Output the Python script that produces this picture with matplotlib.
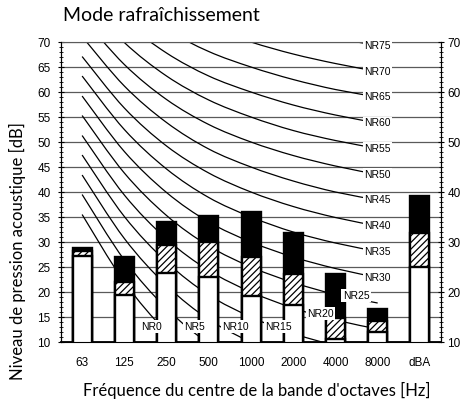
import numpy as np
import matplotlib.pyplot as plt
from matplotlib.ticker import MultipleLocator
from matplotlib.path import Path
from matplotlib.patches import PathPatch

plt.rcParams['hatch.linewidth'] = 0.9

bands = ['63', '125', '250', '500', '1000', '2000', '4000', '8000', 'dBA']

# bar levels in dB: top of the white part, top of the hatched part, top of the black part
level_low = [27.2, 19.4, 23.8, 23.1, 19.3, 17.5, 10.7, 12.1, 25.0]
level_mid = [28.3, 22.1, 29.5, 30.1, 27.1, 23.7, 14.8, 14.2, 31.9]
level_high = [28.9, 27.1, 34.1, 35.3, 36.1, 31.9, 23.6, 16.6, 39.2]

# NR curves, 63 Hz .. 8000 Hz
nr_names = ['NR0', 'NR5', 'NR10', 'NR15', 'NR20', 'NR25', 'NR30', 'NR35',
            'NR40', 'NR45', 'NR50', 'NR55', 'NR60', 'NR65', 'NR70', 'NR75']
nr_values = [
    [35.5, 22.0, 12.0, 4.8, 0.0, -3.5, -6.1, -8.0],
    [39.5, 26.4, 16.7, 9.7, 5.0, 1.6, -1.0, -2.9],
    [43.4, 30.7, 21.3, 14.5, 10.0, 6.7, 4.2, 2.3],
    [47.4, 35.1, 26.0, 19.4, 15.0, 11.7, 9.3, 7.5],
    [51.3, 39.4, 30.6, 24.3, 20.0, 16.8, 14.4, 12.6],
    [55.3, 43.8, 35.3, 29.2, 25.0, 21.9, 19.5, 17.8],
    [59.2, 48.1, 39.9, 34.0, 30.0, 27.0, 24.7, 22.9],
    [63.2, 52.5, 44.6, 38.9, 35.0, 32.0, 29.8, 28.1],
    [67.1, 56.8, 49.2, 43.8, 40.0, 37.1, 34.9, 33.2],
    [71.1, 61.2, 53.9, 48.6, 45.0, 42.2, 40.0, 38.4],
    [75.0, 65.5, 58.5, 53.5, 50.0, 47.3, 45.2, 43.5],
    [79.0, 69.9, 63.2, 58.4, 55.0, 52.3, 50.3, 48.7],
    [82.9, 74.2, 67.8, 63.2, 60.0, 57.4, 55.4, 53.8],
    [86.9, 78.6, 72.5, 68.1, 65.0, 62.5, 60.5, 59.0],
    [90.8, 82.9, 77.1, 73.0, 70.0, 67.6, 65.7, 64.1],
    [94.8, 87.3, 81.8, 77.9, 75.0, 72.6, 70.8, 69.3],
]

# where the low NR labels sit (others sit on the curve end)
label_x = [1.65, 2.66, 3.64, 4.65, 5.65, 6.49]
label_y = [13.1, 13.1, 13.1, 13.1, 15.7, 19.3]


def smooth_path(xs, ys):
    # smoothed line through the points (bezier segments, like a spreadsheet "smooth line")
    pts = np.column_stack([xs, ys]).astype(float)
    n = len(pts)
    verts = [pts[0]]
    codes = [Path.MOVETO]
    for i in range(n - 1):
        p0 = pts[max(i - 1, 0)]
        p1 = pts[i]
        p2 = pts[i + 1]
        p3 = pts[min(i + 2, n - 1)]
        verts += [p1 + (p2 - p0) / 6, p2 - (p3 - p1) / 6, p2]
        codes += [Path.CURVE4] * 3
    return Path(verts, codes)


fig = plt.figure(figsize=(4.65, 4.01), dpi=100)
ax = fig.add_axes([0.1312, 0.1471, 0.8172, 0.7481])

x = np.arange(len(bands))
xc = np.arange(len(nr_values[0]))

for i, vals in enumerate(nr_values):
    ax.add_patch(PathPatch(smooth_path(xc, vals), facecolor='none',
                           edgecolor='black', lw=0.9, zorder=2))
    if i < len(label_x):
        lx, ly = label_x[i], label_y[i]
    else:
        lx, ly = xc[-1], vals[-1]
    ax.text(lx, ly, nr_names[i], ha='center', va='center', fontsize=7.5,
            family='Liberation Sans', zorder=7,
            bbox=dict(facecolor='white', edgecolor='none', pad=1.0))

w = 0.45
ax.bar(x, level_high, width=w, color='black', edgecolor='black', lw=1.7, zorder=3)
ax.bar(x, level_mid, width=w, color='white', edgecolor='black', hatch='/////',
       lw=1.7, zorder=4)
ax.bar(x, level_low, width=w, color='white', edgecolor='black', lw=1.7, zorder=5)

ax.set_xlim(-0.5, len(bands) - 0.5)
ax.set_ylim(10, 70)
ax.set_xticks(x)
ax.set_xticklabels(bands, family='Liberation Sans', fontsize=8.5)
ax.tick_params(axis='x', length=0, pad=11)
ax.set_yticks(np.arange(10, 71, 5))
ax.yaxis.set_minor_locator(MultipleLocator(1))
ax.tick_params(axis='y', which='major', direction='inout', length=4, pad=5.5,
               labelsize=8.5)
ax.tick_params(axis='y', which='minor', direction='inout', length=2.5)
for lab in ax.get_yticklabels():
    lab.set_family('Liberation Sans')
ax.yaxis.grid(True, color='#5a5a5a', lw=0.9)
ax.set_axisbelow(True)
ax.spines['top'].set_color('#5a5a5a')
ax.spines['bottom'].set_linewidth(1.3)

ax2 = ax.twinx()
ax2.set_ylim(10, 70)
ax2.set_yticks(np.arange(10, 71, 10))
ax2.yaxis.set_minor_locator(MultipleLocator(1))
ax2.tick_params(axis='y', which='major', direction='inout', length=4, pad=2.5,
                labelsize=8.5)
ax2.tick_params(axis='y', which='minor', direction='inout', length=2.5)
for lab in ax2.get_yticklabels():
    lab.set_family('Liberation Sans')
ax2.spines['top'].set_visible(False)

fig.text(0.136, 0.962, 'Mode rafraîchissement', fontsize=14, family='Lato',
         ha='left', va='center')
fig.text(0.553, 0.027, "Fréquence du centre de la bande d'octaves [Hz]",
         fontsize=12, family='Lato', ha='center', va='center')
fig.text(0.037, 0.373, 'Niveau de pression acoustique [dB]', fontsize=12,
         family='Lato', rotation=90, ha='center', va='center')

fig.savefig('out.png', dpi=100)
